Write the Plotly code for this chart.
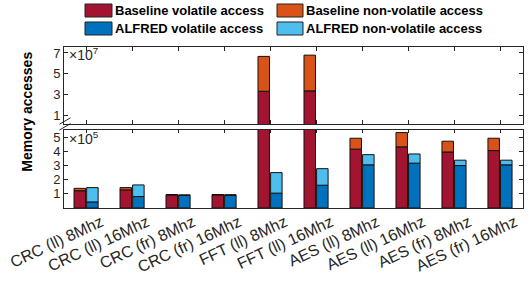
import plotly.graph_objects as go

categories = ["CRC (ll) 8Mhz", "CRC (ll) 16Mhz", "CRC (fr) 8Mhz", "CRC (fr) 16Mhz",
              "FFT (ll) 8Mhz", "FFT (ll) 16Mhz", "AES (ll) 8Mhz", "AES (ll) 16Mhz",
              "AES (fr) 8Mhz", "AES (fr) 16Mhz"]
baseline_volatile = [1.22e5, 1.28e5, 0.93e5, 0.93e5, 3.33e7, 3.37e7, 4.16e5, 4.32e5, 3.96e5, 4.06e5]
baseline_nonvolatile = [0.17e5, 0.16e5, 0.02e5, 0.02e5, 3.34e7, 3.42e7, 0.77e5, 1.01e5, 0.76e5, 0.87e5]
alfred_volatile = [0.43e5, 0.81e5, 0.90e5, 0.91e5, 1.05e5, 1.61e5, 3.05e5, 3.17e5, 3.00e5, 3.05e5]
alfred_nonvolatile = [1.01e5, 0.82e5, 0.02e5, 0.02e5, 1.45e5, 1.17e5, 0.72e5, 0.65e5, 0.38e5, 0.33e5]
series_names = ["Baseline volatile access", "Baseline non-volatile access",
                "ALFRED volatile access", "ALFRED non-volatile access"]

C_BV = "#A2142F"
C_BN = "#D95319"
C_AV = "#0072BD"
C_AN = "#4DBEEE"
colors = [C_BV, C_BN, C_AV, C_AN]

idx = list(range(len(categories)))
xb = [i - 0.137 for i in idx]
xa = [i + 0.137 for i in idx]
BW = 0.25

FONT = "Liberation Sans, Arial, Helvetica, sans-serif"
AX = "#262626"

W, H = 532, 281
ML, MR, MT, MB = 64, 9, 47, 73
PW, PH = W - ML - MR, H - MT - MB


def px_x(p):
    return (p - ML) / PW


def px_y(p):
    return (H - MB - p) / PH


fig = go.Figure()
series = [
    (series_names[0], xb, baseline_volatile, C_BV),
    (series_names[1], xb, baseline_nonvolatile, C_BN),
    (series_names[2], xa, alfred_volatile, C_AV),
    (series_names[3], xa, alfred_nonvolatile, C_AN),
]
for ya, xa_ in (("y", "x"), ("y2", "x2")):
    for name, xs, ys, col in series:
        fig.add_trace(go.Bar(x=xs, y=ys, width=BW, name=name, marker_color=col,
                             marker_line=dict(color="#111111", width=1),
                             xaxis=xa_, yaxis=ya, showlegend=False))

axis_common = dict(showline=True, linecolor=AX, linewidth=1, mirror="ticks",
                   ticks="inside", ticklen=4, tickcolor=AX, showgrid=False, zeroline=False,
                   automargin=False, ticklabeloverflow="allow",
                   tickfont=dict(family=FONT, size=13, color=AX))

fig.update_layout(
    barmode="relative",
    width=W, height=H,
    margin=dict(l=ML, r=MR, t=MT, b=MB, autoexpand=False),
    paper_bgcolor="white", plot_bgcolor="white",
    font=dict(family=FONT, size=13, color="#000000"),
    xaxis=dict(axis_common, range=[-0.48, 9.5], tickvals=idx, ticktext=categories,
               tickangle=-25, anchor="y", domain=[0, 1], ticklen=3,
               ticklabelshift=15, ticklabelstandoff=-2,
               tickfont=dict(family=FONT, size=16, color=AX)),
    xaxis2=dict(axis_common, range=[-0.48, 9.5], tickvals=idx, showticklabels=False,
                anchor="y2", domain=[0, 1], matches="x"),
    yaxis=dict(axis_common, range=[0, 5.53e5], tickvals=[1e5, 2e5, 3e5, 4e5, 5e5],
               ticktext=["1", "2", "3", "4", "5"], domain=[0, 0.486], anchor="x"),
    yaxis2=dict(axis_common, range=[0.2e7, 7.57e7], tickvals=[1e7, 3e7, 5e7, 7e7],
                ticktext=["1", "3", "5", "7"], domain=[0.522, 1], anchor="x2"),
    showlegend=False,
)

legend_cols = [(85, 112, 114), (277, 303, 305)]
legend_rows = [(4, 17), (22, 35)]
for k, (name, col) in enumerate(zip(series_names, colors)):
    r, c = divmod(k, 2)
    x0, x1, xt = legend_cols[c]
    y0, y1 = legend_rows[r]
    fig.add_shape(type="rect", xref="paper", yref="paper",
                  x0=px_x(x0), x1=px_x(x1), y0=px_y(y1), y1=px_y(y0),
                  fillcolor=col, line=dict(color="#222222", width=1))
    fig.add_annotation(xref="paper", yref="paper", x=px_x(xt), y=px_y((y0 + y1) / 2),
                       xanchor="left", yanchor="middle", text="<b>" + name + "</b>",
                       showarrow=False, borderpad=0,
                       font=dict(family=FONT, size=13, color="#000000"))

fig.add_annotation(xref="paper", yref="paper", x=0.008, y=1.02, xanchor="left", yanchor="top",
                   text="\u00d710<sup>7</sup>", showarrow=False, borderpad=0,
                   font=dict(family=FONT, size=14, color=AX))
fig.add_annotation(xref="paper", yref="paper", x=0.008, y=0.50, xanchor="left", yanchor="top",
                   text="\u00d710<sup>5</sup>", showarrow=False, borderpad=0,
                   font=dict(family=FONT, size=14, color=AX))
fig.add_annotation(xref="paper", yref="paper", x=-0.08, y=0.6, xanchor="center", yanchor="middle",
                   text="<b>Memory accesses</b>", textangle=-90, showarrow=False,
                   font=dict(family=FONT, size=14, color="#000000"))
for dy in (0.0, 0.036):
    fig.add_shape(type="line", xref="paper", yref="paper",
                  x0=-0.01, x1=0.014, y0=0.484 + dy, y1=0.524 + dy,
                  line=dict(color=AX, width=1))

fig.write_html("out.html", post_script="document.body.style.margin='0';",
               config={"displayModeBar": False})
